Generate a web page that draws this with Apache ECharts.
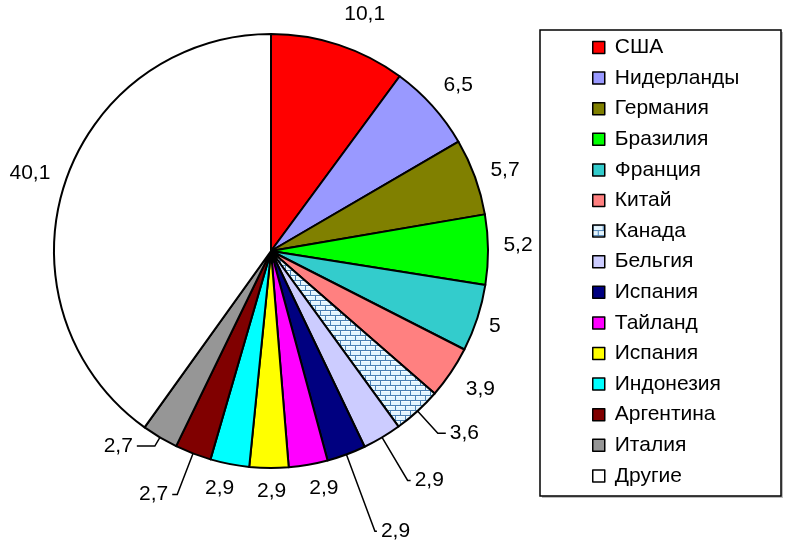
<!DOCTYPE html>
<html><head><meta charset="utf-8">
<script src="https://cdn.jsdelivr.net/npm/echarts@6/dist/echarts.min.js"></script>
<style>html,body{margin:0;padding:0;background:#fff}#c{width:789px;height:540px}</style>
</head><body><div id="c"></div>
<script>
// ---- data ----
const categories = ['США','Нидерланды','Германия','Бразилия','Франция','Китай','Канада','Бельгия','Испания','Тайланд','Испания','Индонезия','Аргентина','Италия','Другие'];
const values = [10.1, 6.5, 5.7, 5.2, 5, 3.9, 3.6, 2.9, 2.9, 2.9, 2.9, 2.9, 2.7, 2.7, 40.1];

// ---- styles ----
const colors = ['#FF0000','#9999FF','#808000','#00FF00','#33CCCC','#FF8080','PATTERN','#CCCCFF','#000080','#FF00FF','#FFFF00','#00FFFF','#800000','#969696','#FFFFFF'];
// labels drawn with leader lines: index -> [length, length2]
const leaderStyle = {6:[30,8], 7:[50,3], 8:[82,2], 12:[44,5], 13:[10,18]};
// small nudges of the plain labels
const labelNudge = [[16,0],[2,1],[0,4],[-2,-4],[-13,-2],[3,-1],[0,0],[0,0],[0,0],[10,-8],[3,-9],[-4,-7],[0,0],[0,0],[-4,-2]];

function brickPattern(){
  const c = document.createElement('canvas');
  c.width = 10; c.height = 10;
  const g = c.getContext('2d');
  g.fillStyle = '#E2F5FF'; g.fillRect(0,0,10,10);
  g.fillStyle = '#F4FCFF'; g.fillRect(0,1,10,1); g.fillRect(0,6,10,1);
  g.fillStyle = '#4A80B4';
  g.fillRect(0,0,10,1); g.fillRect(0,5,10,1);
  g.fillRect(0,0,1,5); g.fillRect(5,5,1,5);
  return c;
}
const pattern = {image: brickPattern(), repeat: 'repeat'};

// unique names (duplicate "Испания")
const seen = {};
const names = categories.map(n => { seen[n] = (seen[n]||0)+1; return n + ' '.repeat(seen[n]-1); });
const fmt = v => String(v).replace('.', ',');
const FONT = '"Liberation Sans", Arial, sans-serif';

const mainData = values.map((v,i) => {
  const ld = leaderStyle[i];
  return {
    name: names[i], value: v,
    itemStyle: {color: colors[i] === 'PATTERN' ? pattern : colors[i]},
    label: ld ? {show: true, position: 'outside'} : {show: false},
    labelLine: ld ? {show: true, length: ld[0], length2: ld[1]} : {show: false}
  };
});
const labelData = values.map((v,i) => ({
  name: names[i], value: v,
  label: {show: !leaderStyle[i]}
}));

const chart = echarts.init(document.getElementById('c'), null, {renderer: 'canvas'});
chart.setOption({
  animation: false,
  backgroundColor: '#fff',
  graphic: [
    {type: 'rect', shape: {x: 542, y: 32, width: 241, height: 466}, style: {fill: '#BDBDBD'}, z: 0},
    {type: 'rect', shape: {x: 540, y: 30, width: 241, height: 466}, style: {fill: '#fff', stroke: '#000', lineWidth: 1.5}, z: 1}
  ],
  legend: {
    orient: 'vertical', left: 592, top: 37, padding: 0,
    itemWidth: 12, itemHeight: 12, itemGap: 9.6,
    data: names,
    formatter: n => n.trim(),
    icon: 'rect',
    itemStyle: {borderColor: '#000', borderWidth: 1.5},
    textStyle: {fontFamily: FONT, fontSize: 21, color: '#000', padding: [0,0,0,5]},
    z: 5
  },
  series: [
    {
      type: 'pie', center: [271, 251], radius: 217, startAngle: 90, clockwise: true,
      avoidLabelOverlap: false, silent: true,
      itemStyle: {borderColor: '#000', borderWidth: 2, borderJoin: 'round'},
      label: {fontFamily: FONT, fontSize: 21, color: '#000', formatter: p => fmt(p.value), distanceToLabelLine: 4},
      labelLine: {lineStyle: {color: '#000', width: 1.5}, smooth: false},
      data: mainData
    },
    {
      type: 'pie', center: [271, 251], radius: [226, 266], startAngle: 90, clockwise: true,
      avoidLabelOverlap: false, silent: true,
      itemStyle: {color: 'rgba(0,0,0,0)', borderWidth: 0},
      label: {position: 'inside', fontFamily: FONT, fontSize: 21, color: '#000', formatter: p => fmt(p.value)},
      labelLine: {show: false},
      labelLayout: p => ({dx: labelNudge[p.dataIndex][0], dy: labelNudge[p.dataIndex][1]}),
      data: labelData
    }
  ]
});
</script>
</body></html>
